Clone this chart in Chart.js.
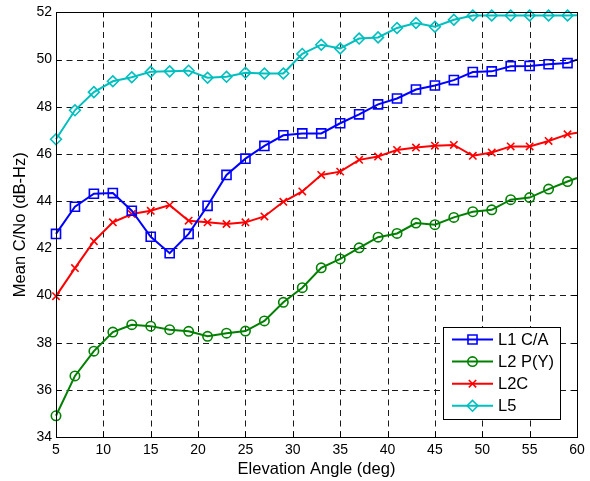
<!DOCTYPE html>
<html>
<head>
<meta charset="utf-8">
<title>Mean C/No vs Elevation</title>
<script src="https://cdn.jsdelivr.net/npm/chart.js@4/dist/chart.umd.min.js"></script>
<style>
  html, body { margin: 0; padding: 0; background: #fff; }
  #wrap { width: 590px; height: 481px; position: relative; }
</style>
</head>
<body>
<div id="wrap"><canvas id="grafico"></canvas></div>
<script>
// elevation bins (deg); last sample at 60 has no marker
const elevation = [5, 7, 9, 11, 13, 15, 17, 19, 21, 23, 25, 27, 29, 31, 33, 35, 37, 39, 41, 43, 45, 47, 49, 51, 53, 55, 57, 59, 60];

const l1ca = [42.61, 43.76, 44.31, 44.34, 43.59, 42.49, 41.79, 42.61, 43.80, 45.11, 45.80, 46.34, 46.79, 46.87, 46.87, 47.30, 47.68, 48.10, 48.35, 48.73, 48.90, 49.13, 49.47, 49.50, 49.72, 49.73, 49.80, 49.85, 50.00];
const l2py = [34.90, 36.59, 37.64, 38.45, 38.76, 38.70, 38.55, 38.48, 38.27, 38.40, 38.49, 38.92, 39.71, 40.33, 41.17, 41.55, 42.02, 42.47, 42.63, 43.07, 43.00, 43.31, 43.55, 43.63, 44.06, 44.15, 44.51, 44.83, 44.98];
const l2c = [39.97, 41.16, 42.30, 43.10, 43.45, 43.59, 43.83, 43.17, 43.10, 43.03, 43.10, 43.35, 43.97, 44.41, 45.11, 45.25, 45.75, 45.89, 46.17, 46.27, 46.35, 46.38, 45.92, 46.06, 46.32, 46.32, 46.55, 46.83, 46.90];
const l5 = [46.62, 47.85, 48.62, 49.08, 49.25, 49.48, 49.50, 49.53, 49.23, 49.27, 49.44, 49.41, 49.41, 50.24, 50.63, 50.47, 50.89, 50.94, 51.34, 51.55, 51.39, 51.69, 51.87, 51.87, 51.87, 51.87, 51.87, 51.87, 51.88];

const xTicks = [5, 10, 15, 20, 25, 30, 35, 40, 45, 50, 55, 60];
const yTicks = [34, 36, 38, 40, 42, 44, 46, 48, 50, 52];

const series = [
  { label: "L1 C/A", values: l1ca, color: "#0000ff", style: "rect", radius: 6.4 },
  { label: "L2 P(Y)", values: l2py, color: "#008000", style: "circle", radius: 4.7 },
  { label: "L2C", values: l2c, color: "#ff0000", style: "crossRot", radius: 5.2 },
  { label: "L5", values: l5, color: "#00bfbf", style: "rectRot", radius: 5.4 }
];

const FONT = "Arial, 'Liberation Sans', sans-serif";

function pontos(valores) {
  return elevation.map((x, i) => ({ x: x, y: valores[i] }));
}

// dashed grid under the lines
const gradePlugin = {
  id: "grade",
  beforeDatasetsDraw(chart) {
    const ctx = chart.ctx;
    const a = chart.chartArea;
    const sx = chart.scales.x;
    const sy = chart.scales.y;
    ctx.save();
    ctx.strokeStyle = "#1a1a1a";
    ctx.lineWidth = 1;
    ctx.setLineDash([6, 4.5]);
    xTicks.slice(1, -1).forEach(v => {
      const px = Math.round(sx.getPixelForValue(v)) + 0.5;
      ctx.beginPath();
      ctx.moveTo(px, a.bottom); ctx.lineTo(px, a.top);
      ctx.stroke();
    });
    yTicks.slice(1, -1).forEach(v => {
      const py = Math.round(sy.getPixelForValue(v)) + 0.5;
      ctx.beginPath();
      ctx.moveTo(a.left, py); ctx.lineTo(a.right, py);
      ctx.stroke();
    });
    ctx.restore();
  }
};

// box, inward ticks and legend, drawn the way MATLAB does it
const molduraPlugin = {
  id: "moldura",
  afterDatasetsDraw(chart) {
    const ctx = chart.ctx;
    const a = chart.chartArea;
    const sx = chart.scales.x;
    const sy = chart.scales.y;
    ctx.save();
    ctx.strokeStyle = "#000";
    ctx.lineWidth = 1;
    ctx.setLineDash([]);
    ctx.beginPath();
    xTicks.forEach(v => {
      const px = Math.round(sx.getPixelForValue(v)) + 0.5;
      ctx.moveTo(px, a.bottom); ctx.lineTo(px, a.bottom - 5);
      ctx.moveTo(px, a.top); ctx.lineTo(px, a.top + 5);
    });
    yTicks.forEach(v => {
      const py = Math.round(sy.getPixelForValue(v)) + 0.5;
      ctx.moveTo(a.left, py); ctx.lineTo(a.left + 5, py);
      ctx.moveTo(a.right, py); ctx.lineTo(a.right - 5, py);
    });
    ctx.stroke();
    ctx.strokeRect(Math.round(a.left) + 0.5, Math.round(a.top) + 0.5,
      Math.round(a.right - a.left), Math.round(a.bottom - a.top));

    // legend box
    const lx = 443.5, ly = 327.5, lw = 117, lh = 92;
    ctx.fillStyle = "#fff";
    ctx.fillRect(lx, ly, lw, lh);
    ctx.strokeRect(lx, ly, lw, lh);
    ctx.font = "16.5px " + FONT;
    ctx.textBaseline = "middle";
    ctx.textAlign = "left";
    series.forEach((s, i) => {
      const y = 339.5 + i * 22.1;
      ctx.strokeStyle = s.color;
      ctx.lineWidth = 2;
      ctx.beginPath();
      ctx.moveTo(452, y); ctx.lineTo(493, y);
      ctx.stroke();
      ctx.fillStyle = "rgba(0,0,0,0)";
      ctx.lineWidth = 1.6;
      Chart.helpers.drawPoint(ctx, { pointStyle: s.style, radius: s.radius, rotation: 0, borderWidth: 1.6 }, 472.5, y);
      ctx.fillStyle = "#000";
      ctx.fillText(s.label, 498, y + 1);
    });
    ctx.restore();
  }
};

function desenharGrafico() {
  const ctx = document.getElementById("grafico").getContext("2d");
  const ultimo = elevation.length - 1;

  new Chart(ctx, {
    type: "line",
    data: {
      datasets: series.map(s => ({
        label: s.label,
        data: pontos(s.values),
        borderColor: s.color,
        borderWidth: 2,
        backgroundColor: "rgba(0,0,0,0)",
        pointStyle: s.style,
        pointRadius: c => (c.dataIndex === ultimo ? 0 : s.radius),
        pointBorderWidth: 1.6,
        pointBorderColor: s.color,
        pointBackgroundColor: "rgba(0,0,0,0)",
        tension: 0,
        clip: false
      }))
    },
    options: {
      responsive: false,
      animation: false,
      layout: { padding: { top: 11, right: 13, left: 0, bottom: 0 } },
      plugins: {
        legend: { display: false },
        tooltip: { enabled: false }
      },
      scales: {
        x: {
          type: "linear",
          min: 5,
          max: 60,
          afterFit: s => { s.height = 44; },
          afterBuildTicks: s => { s.ticks = xTicks.map(v => ({ value: v })); },
          ticks: { color: "#000", padding: 5, font: { size: 14, family: FONT } },
          grid: { display: false, drawTicks: false },
          border: { display: false },
          title: { display: true, text: "Elevation Angle (deg)", color: "#000", padding: { top: 2, bottom: 2 }, font: { size: 16.5, family: FONT } }
        },
        y: {
          min: 34,
          max: 52,
          afterFit: s => { s.width = 56; },
          afterBuildTicks: s => { s.ticks = yTicks.map(v => ({ value: v })); },
          ticks: { color: "#000", padding: 4, font: { size: 14, family: FONT } },
          grid: { display: false, drawTicks: false },
          border: { display: false },
          title: { display: true, text: "Mean C/No (dB-Hz)", color: "#000", padding: { top: 11, bottom: 0 }, font: { size: 16.5, family: FONT } }
        }
      }
    },
    plugins: [gradePlugin, molduraPlugin]
  });
}

const canvas = document.getElementById("grafico");
canvas.width = 590;
canvas.height = 481;
window.addEventListener("load", desenharGrafico);
</script>
</body>
</html>
